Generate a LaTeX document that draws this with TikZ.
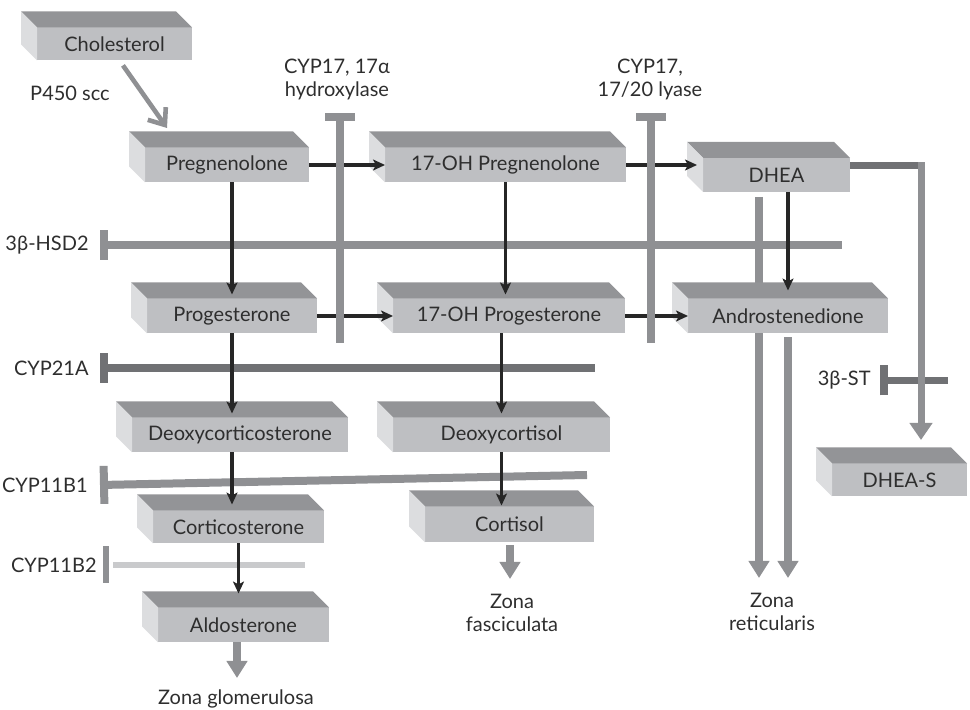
\documentclass[tikz,border=0pt]{standalone}
\usepackage{fontspec}
\setmainfont{Lato}
\usetikzlibrary{arrows.meta, positioning, backgrounds, calc}

\definecolor{boxfront}{HTML}{BEBFC2}
\definecolor{boxtop}{HTML}{939497}
\definecolor{boxside}{HTML}{DCDDDF}
\definecolor{barmid}{HTML}{8F9093}
\definecolor{bardark}{HTML}{707174}
\definecolor{barlight}{HTML}{C9CACC}
\definecolor{inkgray}{HTML}{2E2E2E}

\begin{document}
\begin{tikzpicture}[x=0.5pt, y=-0.5pt, >=Stealth, text=inkgray,
  font=\fontsize{10}{11.5}\selectfont,
  steroid/.style={fill=boxfront, minimum height=17.5pt, inner sep=1pt, outer sep=0pt},
  txt/.style={inner sep=0pt, align=center},
  react/.style={draw=black!85, line width=1.7pt, -{Stealth[length=6pt, width=5.5pt, inset=1.5pt]}},
  zone/.style={draw=barmid, line width=3.75pt, -{Triangle[length=8.5pt, width=10pt]}},
  inhib/.style={draw=barmid, line width=4pt, {Bar[width=15pt]}-}]

  \useasboundingbox (0,0) rectangle (970,710);

  % Steroids
  \node[steroid, minimum width=82pt] (preg) at (227,165) {Pregnenolone};
  \node[steroid, minimum width=77.5pt, minimum height=16.5pt, above=43.5pt of preg, xshift=-56.25pt] (chol) {Cholesterol};
  \node[steroid, minimum width=120.5pt, right=38pt of preg] (ohpreg) {17-OH Pregnenolone};
  \node[steroid, minimum width=73.5pt, minimum height=17pt, right=38.5pt of ohpreg, yshift=-5pt] (dhea) {DHEA};
  \node[steroid, minimum width=85pt, below=58pt of preg, xshift=2.5pt] (prog) {Progesterone};
  \node[steroid, minimum width=116pt, right=38pt of prog] (ohprog) {17-OH Progesterone};
  \node[steroid, minimum width=100pt, right=31.5pt of ohprog] (andro) {Androstenedione};
  \node[steroid, minimum width=108pt, below=42pt of prog, xshift=4pt] (doc) {Deoxycorticosterone};
  \node[steroid, minimum width=108.5pt, below=42pt of ohprog, xshift=-3.75pt] (dcort) {Deoxycortisol};
  \node[steroid, minimum width=85.5pt, minimum height=16.5pt, below=29pt of doc, xshift=-0.75pt] (cortico) {Corticosterone};
  \node[steroid, minimum width=84.5pt, minimum height=18pt, below=27pt of dcort, xshift=4pt] (cortisol) {Cortisol};
  \node[steroid, minimum width=85.5pt, below=32pt of cortico, xshift=2.5pt] (aldo) {Aldosterone};
  \node[steroid, minimum width=67.5pt, minimum height=16.5pt, below=65pt of andro, xshift=55.75pt] (dheas) {DHEA-S};

  % top and side faces
  \foreach \n in {chol,preg,ohpreg,dhea,prog,ohprog,andro,doc,dcort,cortico,cortisol,aldo,dheas} {
    \fill[boxtop] (\n.north west) -- ++(-16,-16) -- ([shift={(-16,-16)}]\n.north east) -- (\n.north east) -- cycle;
    \fill[boxside] (\n.north west) -- ++(-16,-16) -- ([shift={(-16,-16)}]\n.south west) -- (\n.south west) -- cycle;
  }

  % Labels
  \node[txt] (p450) at (70,93) {P450 scc};
  \node[txt] (lhyd) at (337,79.5) {CYP17, 17α\\hydroxylase};
  \node[txt] (llyase) at (650,79.5) {CYP17,\\17/20 lyase};
  \node[txt, anchor=east] (lhsd) at (89,245) {3β-HSD2};
  \node[txt, anchor=east] (l21) at (89,368) {CYP21A};
  \node[txt, anchor=east] (lb1) at (88,485) {CYP11B1};
  \node[txt, anchor=east] (lb2) at (97,565) {CYP11B2};
  \node[txt, anchor=east] (lst) at (871,380.5) {3β-ST};
  \node[txt] (zg) at (236,699) {Zona glomerulosa};
  \node[txt] (zf) at (512,613) {Zona\\fasciculata};
  \node[txt] (zr) at (772,611.5) {Zona\\reticularis};

  % Enzyme bars
  \coordinate (hsdend) at (842,245);
  \coordinate (c21end) at (595,368);
  \coordinate (b1end) at (587,475);
  \coordinate (b2end) at (305,565);
  \coordinate (stend) at (948,380.5);
  \draw[inhib] ([xshift=5.5pt]lhsd.east) -- (hsdend);
  \draw[inhib, draw=bardark, line width=3.75pt] ([xshift=5.5pt]l21.east) -- (c21end);
  \draw[inhib, {Bar[width=19pt]}-] ([xshift=6pt]lb1.east) -- (b1end);
  \draw[draw=barlight, line width=3pt] ([xshift=8pt]lb2.east) -- (b2end);
  \draw[draw=barmid, line width=3pt] ([xshift=4.25pt, yshift=9.25pt]lb2.east) -- ++(0,37);
  \draw[inhib, draw=bardark, line width=3.75pt] ([xshift=4.5pt]lst.east) -- (stend);

  % Reactions
  \coordinate (scctip) at (167,128);
  \draw[draw=barmid, line width=2.3pt, -{Straight Barb[length=7pt, width=11pt]}, shorten <=3pt]
    ($(chol.south)+(5,0)$) -- (scctip);
  \draw[react] (preg.east) -- (ohpreg.west);
  \draw[react, shorten >=3pt] (ohpreg.east) -- (ohpreg.east -| dhea.west);
  \draw[react] (prog.east) -- (ohprog.west);
  \draw[react] (ohprog.east) -- (andro.west);
  \draw[react, shorten >=2pt] (preg.south -| prog.north) -- (prog.north);
  \draw[react, shorten >=2pt] (ohpreg.south) -- (ohpreg.south |- ohprog.north);
  \draw[react, shorten >=4pt] (dhea.south -| andro.north) -- (andro.north);
  \draw[react, shorten >=2pt] (prog.south) -- (prog.south |- doc.north);
  \draw[react, shorten >=2pt] (ohprog.south -| dcort.north) -- (dcort.north);
  \draw[react, shorten >=3pt] (doc.south -| prog.south) -- (cortico.north -| prog.south);
  \draw[react, shorten >=0.5pt] (dcort.south) -- (dcort.south |- cortisol.north);
  \draw[react, shorten >=7pt] (cortico.south) -- (cortico.south |- aldo.north);

  % CYP17 bars
  \coordinate (hydtop) at (340,113);
  \coordinate (hydend) at (340,343);
  \coordinate (lyasetop) at (651,113);
  \coordinate (lyaseend) at (651,343);
  \draw[inhib] (hydtop) -- (hydend);
  \draw[inhib] (lyasetop) -- (lyaseend);

  % Zones
  \coordinate (zgtip) at (237,678);
  \coordinate (zftip) at (510,579);
  \coordinate (zrtipA) at (759,578);
  \coordinate (zrtipB) at (788,578);
  \draw[zone] (aldo.south -| zgtip) -- (zgtip);
  \draw[zone, shorten <=1.5pt] (cortisol.south -| zftip) -- (zftip);
  \begin{pgfonlayer}{background}
    \draw[zone, line width=4pt, shorten <=2.5pt] (dhea.south -| zrtipA) -- (zrtipA);
  \end{pgfonlayer}
  \draw[zone, line width=4pt, shorten <=2pt] (andro.south -| zrtipB) -- (zrtipB);

  % Sulfation
  \coordinate (bend) at (921,166);
  \coordinate (stip) at (921,440);
  \draw[draw=bardark, line width=3.5pt] (dhea.east |- bend) -- (bend);
  \draw[zone, line width=3.5pt, -{Triangle[length=8.5pt, width=11pt]}] ([yshift=1.75pt]bend) -- (stip);

\end{tikzpicture}
\end{document}
